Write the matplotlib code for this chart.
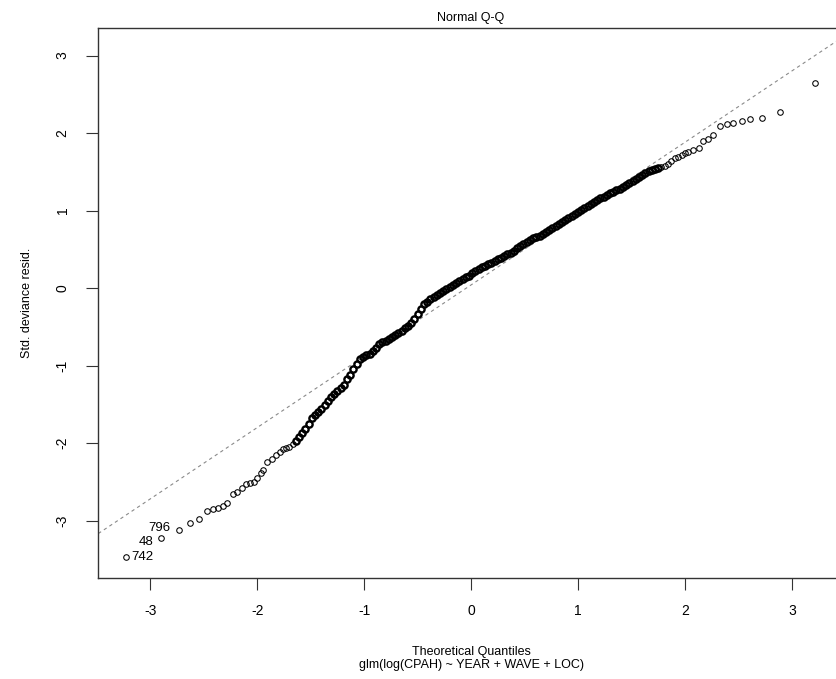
import matplotlib
matplotlib.use("Agg")
import matplotlib.pyplot as plt

plt.rcParams['font.family'] = ['Liberation Sans', 'DejaVu Sans']
plt.rcParams['axes.unicode_minus'] = False

# theoretical quantiles (x) and standardized deviance residuals (y)
theo_q = [
    -3.227, -2.903, -2.731, -2.629, -2.542, -2.467, -2.411, -2.364, -2.317, -2.280,
    -2.223, -2.186, -2.145, -2.105, -2.067, -2.030, -1.999, -1.967, -1.943, -1.906,
    -1.864, -1.824, -1.787,
    -1.76, -1.73, -1.70, -1.67, -1.64, -1.61, -1.58, -1.55, -1.52, -1.49,
    -1.46, -1.43, -1.40, -1.37, -1.34, -1.31, -1.28, -1.25, -1.22, -1.19,
    -1.16, -1.13, -1.10, -1.07,
    -1.04, -1.01, -0.98, -0.95, -0.92, -0.89, -0.86, -0.83, -0.80, -0.77,
    -0.74, -0.71, -0.68, -0.65, -0.62, -0.59, -0.56, -0.53, -0.50, -0.47,
    -0.44, -0.41, -0.38, -0.35, -0.32, -0.29, -0.26, -0.23, -0.20, -0.17,
    -0.14, -0.11, -0.08, -0.05, -0.02, 0.01,
    0.04, 0.07, 0.10, 0.13, 0.16, 0.19, 0.22, 0.25, 0.28, 0.31,
    0.34, 0.37, 0.40, 0.43, 0.46, 0.49, 0.52, 0.55, 0.58, 0.61,
    0.64, 0.67, 0.70, 0.73, 0.76, 0.79, 0.82, 0.85, 0.88, 0.91,
    0.94, 0.97, 1.00, 1.03, 1.06, 1.09, 1.12, 1.15, 1.18, 1.21,
    1.24, 1.27, 1.30, 1.33, 1.36, 1.39, 1.42, 1.45, 1.48, 1.51,
    1.54, 1.57, 1.60, 1.63, 1.66, 1.69, 1.72, 1.75, 1.78, 1.81,
    1.84, 1.87, 1.91, 1.94, 1.97, 2.00, 2.03, 2.08, 2.136, 2.173,
    2.220, 2.267, 2.329, 2.392, 2.454, 2.532, 2.610, 2.719, 2.891, 3.218,
]
resid = [
    -3.467, -3.230, -3.123, -3.028, -2.977, -2.882, -2.856, -2.843, -2.813, -2.778,
    -2.658, -2.628, -2.585, -2.529, -2.512, -2.499, -2.456, -2.383, -2.348, -2.241,
    -2.210, -2.155, -2.110,
    -2.080, -2.065, -2.045, -2.010, -1.975, -1.925, -1.868, -1.815, -1.760, -1.681,
    -1.640, -1.600, -1.557, -1.512, -1.460, -1.410, -1.370, -1.330, -1.290, -1.245,
    -1.180, -1.120, -1.045, -0.975,
    -0.910, -0.885, -0.865, -0.845, -0.815, -0.775, -0.725, -0.700, -0.680, -0.655,
    -0.630, -0.605, -0.580, -0.550, -0.520, -0.490, -0.445, -0.395, -0.330, -0.265,
    -0.210, -0.175, -0.140, -0.110, -0.085, -0.060, -0.035, -0.010, 0.015, 0.040,
    0.065, 0.090, 0.115, 0.140, 0.160, 0.190,
    0.220, 0.245, 0.265, 0.285, 0.305, 0.325, 0.348, 0.370, 0.390, 0.410,
    0.435, 0.458, 0.480, 0.510, 0.540, 0.570, 0.598, 0.620, 0.640, 0.657,
    0.675, 0.700, 0.725, 0.750, 0.775, 0.800, 0.830, 0.855, 0.880, 0.905,
    0.930, 0.952, 0.975, 1.003, 1.030, 1.055, 1.080, 1.105, 1.133, 1.160,
    1.180, 1.200, 1.222, 1.240, 1.262, 1.280, 1.302, 1.325, 1.350, 1.380,
    1.410, 1.430, 1.460, 1.490, 1.510, 1.525, 1.540, 1.550, 1.565, 1.580,
    1.595, 1.635, 1.674, 1.695, 1.716, 1.737, 1.759, 1.781, 1.803, 1.901,
    1.919, 1.974, 2.090, 2.116, 2.133, 2.159, 2.177, 2.194, 2.275, 2.641,
]

# labelled extreme observations
label_ids = ["742", "48", "796"]
label_x = [-3.181, -3.106, -3.021]
label_y = [-3.470, -3.277, -3.097]

# qq reference line through the quartiles
line_intercept = 0.04
line_slope = 0.92

xticks = [-3, -2, -1, 0, 1, 2, 3]
yticks = [-3, -2, -1, 0, 1, 2, 3]

fig = plt.figure(figsize=(8.36, 6.79), dpi=100)
ax = fig.add_axes([0.1176, 0.1487, 0.8918, 0.8096])

ax.axline((0, line_intercept), slope=line_slope, color="#8a8a8a",
          lw=0.8, linestyle=(0, (3, 3)), zorder=1)
ax.plot(theo_q, resid, linestyle="none", marker="o", markersize=4.0,
        markerfacecolor="none", markeredgecolor="black", markeredgewidth=0.75,
        zorder=2)

# the bulk of the points overlap into a solid band in the original
core = [(x, y) for x, y in zip(theo_q, resid) if -1.65 <= x <= 1.75]
ax.plot([c[0] for c in core], [c[1] for c in core], linestyle="none",
        marker="o", markersize=4.6, markerfacecolor="none",
        markeredgecolor="black", markeredgewidth=1.6, zorder=3)

for t, x, y in zip(label_ids, label_x, label_y):
    ax.text(x, y, t, fontsize=9.5, ha="left", va="center", color="black")

ax.set_xlim(-3.487, 3.487)
ax.set_ylim(-3.742, 3.351)
ax.set_xticks(xticks)
ax.set_yticks(yticks)
ax.set_yticklabels([str(v) for v in yticks], rotation=90, va="center")
ax.tick_params(direction="out", length=8.6, width=0.8, labelsize=10,
               color="#333333")
ax.tick_params(axis="x", pad=10)
ax.tick_params(axis="y", pad=12)
for s in ax.spines.values():
    s.set_linewidth(1.0)
    s.set_color("#333333")

ax.set_title("Normal Q-Q", fontsize=9, pad=5)
ax.set_xlabel("Theoretical Quantiles\nglm(log(CPAH) ~ YEAR + WAVE + LOC)",
              fontsize=9, labelpad=20, linespacing=1.2)
ax.set_ylabel("Std. deviance resid.", fontsize=9, labelpad=16)

fig.savefig("out.png", dpi=100)
